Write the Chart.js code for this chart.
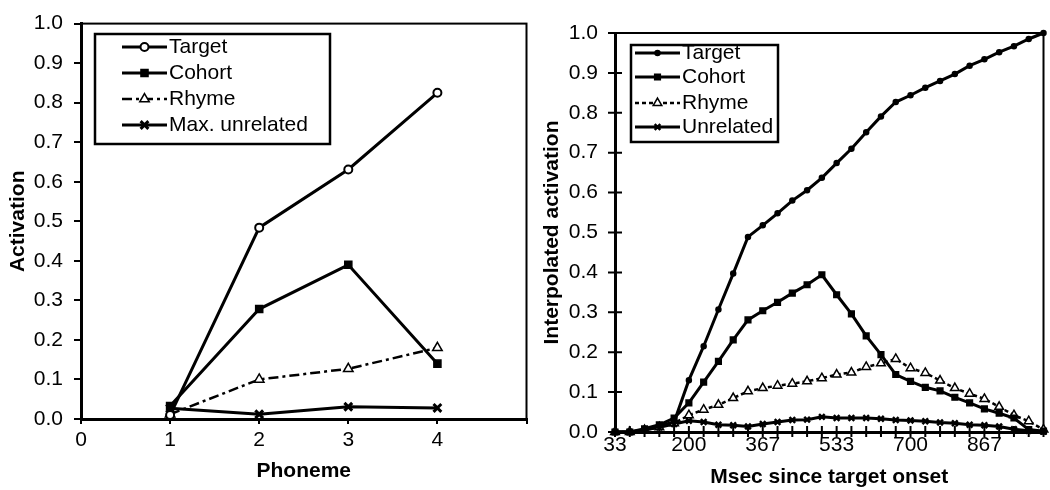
<!DOCTYPE html>
<html lang="en">
<head>
    <meta charset="UTF-8">
    <title>Activation curves</title>
    <script src="https://cdn.jsdelivr.net/npm/chart.js"></script>
    <style>
        body { margin: 0; background: #fff; overflow: hidden; }
        canvas { position: absolute; top: 0; }
        #phonemeChart { left: 0; }
        #msecChart { left: 535px; }
    </style>
</head>
<body>
    <canvas id="phonemeChart" width="535" height="490"></canvas>
    <canvas id="msecChart" width="515" height="490"></canvas>

    <script>
        // left panel: activation by phoneme position
        const phonemes = [1, 2, 3, 4];
        const leftTarget = [0.01, 0.484, 0.631, 0.825];
        const leftCohort = [0.033, 0.278, 0.39, 0.14];
        const leftRhyme = [0.012, 0.10, 0.127, 0.18];
        const leftUnrelated = [0.027, 0.012, 0.031, 0.028];

        // right panel: interpolated activation over time
        const msec = [33, 67, 100, 133, 167, 200, 233, 267, 300, 333, 367, 400, 433, 467, 500,
                      533, 567, 600, 633, 667, 700, 733, 767, 800, 833, 867, 900, 933, 967, 1000];
        const msecLabels = [33, 200, 367, 533, 700, 867];
        const rightTarget = [0, 0, 0.005, 0.015, 0.025, 0.13, 0.215, 0.307, 0.397, 0.489,
                             0.518, 0.548, 0.58, 0.606, 0.637, 0.674, 0.71, 0.751, 0.791, 0.827,
                             0.844, 0.863, 0.88, 0.897, 0.918, 0.934, 0.952, 0.967, 0.985, 1.0];
        const rightCohort = [0, 0, 0.008, 0.018, 0.035, 0.073, 0.125, 0.177, 0.231, 0.281,
                             0.304, 0.325, 0.348, 0.369, 0.394, 0.344, 0.296, 0.241, 0.194, 0.144,
                             0.127, 0.112, 0.103, 0.087, 0.073, 0.058, 0.047, 0.035, 0.006, 0.002];
        const rightRhyme = [0, 0, 0.005, 0.012, 0.022, 0.042, 0.056, 0.068, 0.085, 0.102,
                            0.11, 0.116, 0.121, 0.127, 0.135, 0.144, 0.149, 0.163, 0.172, 0.183,
                            0.16, 0.148, 0.129, 0.11, 0.096, 0.083, 0.063, 0.042, 0.027, 0.006];
        const rightUnrelated = [0, 0, 0.005, 0.012, 0.02, 0.028, 0.025, 0.018, 0.017, 0.014,
                                0.02, 0.025, 0.03, 0.031, 0.038, 0.035, 0.035, 0.035, 0.033, 0.03,
                                0.029, 0.027, 0.024, 0.022, 0.018, 0.017, 0.014, 0.007, 0.003, 0.001];

        Chart.defaults.font.family = '"Liberation Sans", Arial, sans-serif';
        Chart.defaults.font.size = 21;
        Chart.defaults.color = '#000';

        const FONT = '21px "Liberation Sans", Arial, sans-serif';

        // box round the plot area
        const frame = {
            id: 'frame',
            beforeDatasetsDraw(chart) {
                const a = chart.chartArea, ctx = chart.ctx;
                ctx.save();
                ctx.strokeStyle = '#000';
                ctx.lineWidth = 2;
                ctx.strokeRect(a.left, a.top, a.right - a.left, a.bottom - a.top);
                ctx.restore();
            }
        };

        // tick marks that cross the axis lines (right panel)
        const crossTicks = {
            id: 'crossTicks',
            beforeDatasetsDraw(chart) {
                const ctx = chart.ctx, xs = chart.scales.x, ys = chart.scales.y;
                ctx.save();
                ctx.strokeStyle = '#000';
                ctx.lineWidth = 2;
                ctx.beginPath();
                xs.ticks.forEach((t, i) => {
                    const px = xs.getPixelForTick(i);
                    ctx.moveTo(px, ys.bottom - 6);
                    ctx.lineTo(px, ys.bottom + 5);
                });
                ys.ticks.forEach((t, i) => {
                    const py = ys.getPixelForTick(i);
                    ctx.moveTo(xs.left - 7, py);
                    ctx.lineTo(xs.left + 7, py);
                });
                ctx.stroke();
                ctx.restore();
            }
        };

        // legend drawn as line + marker, the way the old figure shows it
        const lineLegend = {
            id: 'lineLegend',
            afterDatasetsDraw(chart, args, opts) {
                const ctx = chart.ctx;
                ctx.save();
                ctx.fillStyle = '#fff';
                ctx.fillRect(opts.box[0], opts.box[1], opts.box[2], opts.box[3]);
                chart.data.datasets.forEach((ds, i) => {
                    const y = opts.rows[i];
                    ctx.strokeStyle = '#000';
                    ctx.lineWidth = ds.borderWidth;
                    ctx.setLineDash(ds.borderDash || []);
                    ctx.beginPath();
                    ctx.moveTo(opts.x0, y);
                    ctx.lineTo(opts.x1, y);
                    ctx.stroke();
                    ctx.setLineDash([]);
                    ctx.fillStyle = ds.pointBackgroundColor;
                    ctx.lineWidth = ds.pointBorderWidth;
                    Chart.helpers.drawPoint(ctx, {
                        pointStyle: ds.pointStyle,
                        radius: ds.pointRadius,
                        borderWidth: ds.pointBorderWidth,
                        rotation: 0
                    }, (opts.x0 + opts.x1) / 2, y);
                    ctx.fillStyle = '#000';
                    ctx.font = FONT;
                    ctx.textBaseline = 'middle';
                    ctx.fillText(ds.label, opts.textX, y);
                });
                ctx.strokeStyle = '#000';
                ctx.lineWidth = 2.5;
                ctx.strokeRect(opts.box[0], opts.box[1], opts.box[2], opts.box[3]);
                ctx.restore();
            }
        };

        function series(label, data, style) {
            return Object.assign({
                label: label,
                data: data,
                borderColor: '#000',
                borderWidth: 3,
                pointBorderColor: '#000',
                pointBackgroundColor: '#000',
                pointBorderWidth: 1.5,
                tension: 0,
                clip: false
            }, style);
        }

        const tickFmt = v => v.toFixed(1);

        new Chart(document.getElementById('phonemeChart'), {
            type: 'line',
            data: {
                datasets: [
                    series('Target', phonemes.map((p, i) => ({ x: p, y: leftTarget[i] })),
                        { pointStyle: 'circle', pointRadius: 4, pointBackgroundColor: '#fff', pointBorderWidth: 2 }),
                    series('Cohort', phonemes.map((p, i) => ({ x: p, y: leftCohort[i] })),
                        { pointStyle: 'rect', pointRadius: 5 }),
                    series('Rhyme', phonemes.map((p, i) => ({ x: p, y: leftRhyme[i] })),
                        { pointStyle: 'triangle', pointRadius: 5.5, pointBackgroundColor: '#fff',
                          borderWidth: 2.5, borderDash: [10, 4, 3, 4] }),
                    series('Max. unrelated', phonemes.map((p, i) => ({ x: p, y: leftUnrelated[i] })),
                        { pointStyle: 'crossRot', pointRadius: 5.5, pointBorderWidth: 3 })
                ]
            },
            options: {
                responsive: false,
                animation: false,
                layout: { padding: { top: 21, right: 6, left: 0, bottom: 0 } },
                plugins: {
                    legend: { display: false },
                    tooltip: { enabled: false },
                    lineLegend: { box: [95, 34, 235, 110], x0: 122, x1: 167, textX: 169, rows: [47, 73, 99, 125] }
                },
                scales: {
                    x: {
                        type: 'linear', min: 0, max: 5,
                        afterFit: s => { s.height = 71; },
                        ticks: { stepSize: 1, padding: 4, callback: v => v === 5 ? '' : v },
                        grid: { drawOnChartArea: false, tickLength: 5, color: '#000', lineWidth: 2 },
                        border: { color: '#000', width: 3 },
                        title: { display: true, text: 'Phoneme', font: { weight: 'bold' }, padding: { top: 0, bottom: 6 } }
                    },
                    y: {
                        min: 0, max: 1,
                        afterFit: s => { s.width = 81; },
                        ticks: { stepSize: 0.1, padding: 11, callback: tickFmt },
                        grid: { drawOnChartArea: false, tickLength: 7, color: '#000', lineWidth: 2 },
                        border: { color: '#000', width: 3 },
                        title: { display: true, text: 'Activation', font: { weight: 'bold' }, padding: { top: 6, bottom: 0 } }
                    }
                }
            },
            plugins: [frame, lineLegend]
        });

        new Chart(document.getElementById('msecChart'), {
            type: 'line',
            data: {
                labels: msec,
                datasets: [
                    series('Target', rightTarget, { pointStyle: 'circle', pointRadius: 2.5 }),
                    series('Cohort', rightCohort, { pointStyle: 'rect', pointRadius: 4 }),
                    series('Rhyme', rightRhyme, { pointStyle: 'triangle', pointRadius: 5,
                        pointBackgroundColor: '#fff', borderWidth: 2.5, borderDash: [4, 3] }),
                    series('Unrelated', rightUnrelated, { pointStyle: 'crossRot', pointRadius: 4, pointBorderWidth: 2.5 })
                ]
            },
            options: {
                responsive: false,
                animation: false,
                layout: { padding: { top: 33, right: 1, left: 0, bottom: 0 } },
                plugins: {
                    legend: { display: false },
                    tooltip: { enabled: false },
                    lineLegend: { box: [96, 45, 147, 97], x0: 100, x1: 145, textX: 147, rows: [53, 77, 103, 127] }
                },
                scales: {
                    x: {
                        type: 'category', offset: false,
                        afterFit: s => { s.height = 58; },
                        ticks: {
                            autoSkip: false, maxRotation: 0, padding: 1,
                            callback: function (v) {
                                const lab = this.getLabelForValue(v);
                                return msecLabels.includes(lab) ? String(lab) : '';
                            }
                        },
                        grid: { display: false, drawTicks: false },
                        border: { color: '#000', width: 3 },
                        title: { display: true, text: 'Msec since target onset', font: { weight: 'bold' }, padding: { top: 0, bottom: 0 } }
                    },
                    y: {
                        min: 0, max: 1,
                        afterFit: s => { s.width = 80; },
                        ticks: { stepSize: 0.1, padding: 17, callback: tickFmt },
                        grid: { display: false, drawTicks: false },
                        border: { color: '#000', width: 3 },
                        title: { display: true, text: 'Interpolated activation', font: { weight: 'bold' }, padding: { top: 5, bottom: 0 } }
                    }
                }
            },
            plugins: [frame, crossTicks, lineLegend]
        });
    </script>
</body>
</html>
